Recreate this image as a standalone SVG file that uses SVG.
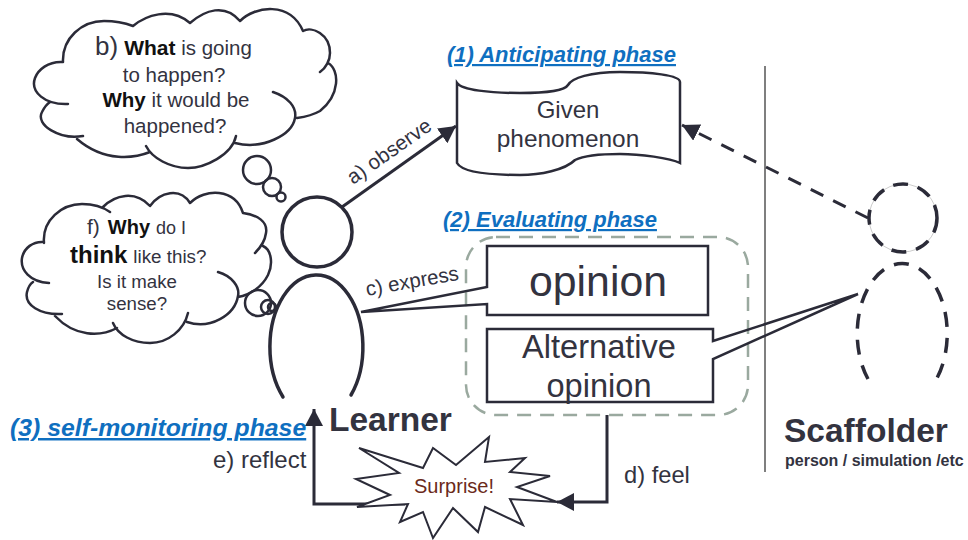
<svg xmlns="http://www.w3.org/2000/svg" width="968" height="540" viewBox="0 0 968 540">
<style>
text{font-family:"Liberation Sans",Arial,sans-serif;fill:#33333f}
.o{fill:none;stroke:#2b2b38;stroke-width:2.5;stroke-linecap:round;stroke-linejoin:round}
.s{fill:#fff;stroke:#2b2b38;stroke-width:2.5;stroke-linejoin:miter}
.c{stroke:#2b2b38;stroke-width:3;fill:none}
.d{stroke-dasharray:15 10;stroke-width:3.5}
.p{fill:#0f6fc0;font-weight:bold;font-style:italic;text-decoration:underline}
.b{font-weight:bold;fill:#111}
.m{text-anchor:middle}
</style>
<defs>
<marker id="ah" markerUnits="userSpaceOnUse" markerWidth="20" markerHeight="20" refX="17" refY="9" orient="auto"><path d="M0,0L17,9L0,18Z" fill="#2b2b38"/></marker>
</defs>
<g id="divider"><line x1="765" y1="66" x2="765" y2="472" stroke="#555" stroke-width="1.5"/></g>
<g id="connectors">
<line class="c" x1="342" y1="207" x2="456" y2="126" marker-end="url(#ah)"/>
<line class="c" x1="868" y1="218" x2="682" y2="125" stroke-dasharray="14 11" marker-end="url(#ah)"/>
<path class="c" d="M607,415V502H557" stroke-linejoin="miter" marker-end="url(#ah)"/>
<path class="c" d="M405,504H314V409" stroke-linejoin="miter" marker-end="url(#ah)"/>
</g>
<g id="thought-b">
<path class="o" d="M63,62C62,38 82,21 104,21C115,21 125,23 133,26C145,16 170,6 190,23C205,10 225,3 240,21C255,6 290,1 303,31C312,26 330,34 330,53C330,60 326,68 320,72M328,63C340,70 340,95 320,111C313,115 304,117 297,118M273,92C288,97 297,107 295,118C292,135 263,150 235,143M236,136C232,155 205,168 188,168C170,168 152,158 146,146M150,152C135,158 105,163 77,139M83,136C60,140 35,125 42,112C44,108 47,104 50,102M68,104C45,105 30,92 35,78C38,70 48,61 63,62"/>
<circle class="o" cx="257" cy="170" r="14"/><circle class="o" cx="272" cy="187" r="9"/><circle class="o" cx="281" cy="197" r="4.5"/>
<text x="95" y="55" font-size="26">b)<tspan class="b" dx="6" font-size="21">What</tspan><tspan font-size="20.5"> is going</tspan></text>
<text class="m" x="174" y="82" font-size="20.5">to happen?</text>
<text class="m" x="176" y="107" font-size="20.5"><tspan class="b">Why</tspan> it would be</text>
<text class="m" x="175" y="133" font-size="20.5">happened?</text>
</g>
<g id="thought-f">
<path class="o" d="M44,243C42,220 62,204 82,204C92,204 103,207 110,212M103,207C115,195 135,190 150,206C160,192 180,187 190,203C205,188 235,188 243,213C258,215 268,222 266,233C265,241 260,248 255,253M263,246C272,250 273,265 268,275C262,287 250,295 238,297M218,272C232,276 240,287 238,296C235,315 210,330 187,322M188,313C184,330 168,343 150,343C133,343 118,335 113,323M117,328C100,337 75,337 55,316M62,314C40,315 24,305 27,292C28,288 30,284 33,282M49,283C30,282 20,270 22,258C24,248 33,241 44,242"/>
<circle class="o" cx="258" cy="303" r="13" stroke-width="2"/><circle class="o" cx="268" cy="307" r="7" stroke-width="2"/><circle class="o" cx="272" cy="307" r="4" stroke-width="2"/>
<text x="87" y="234" font-size="21">f)<tspan class="b" dx="8" font-size="20">Why</tspan><tspan font-size="18" dx="6">do I</tspan></text>
<text x="70" y="263" font-size="18.8"><tspan class="b" font-size="24">think</tspan><tspan dx="6">like this?</tspan></text>
<text class="m" x="137" y="288" font-size="18.7">Is it make</text>
<text class="m" x="137" y="310" font-size="18.7">sense?</text>
</g>
<g id="learner">
<circle class="o" cx="317" cy="232" r="35" style="stroke-width:3.5"/>
<path class="o" style="stroke-width:3.5" d="M283,397A46.5,72 0 1 1 351,395"/>
<text x="329" y="431" font-size="33.5" font-weight="bold">Learner</text>
</g>
<g id="scaffolder">
<circle cx="903" cy="218" r="34" fill="none" stroke="#ccc" stroke-width="1"/>
<circle class="o d" cx="903" cy="218" r="34" style="stroke-linecap:butt"/>
<path class="o d" style="stroke-linecap:butt;stroke-dasharray:15 11" d="M868,379A45,70 0 1 1 937,378"/>
<text x="784" y="442" font-size="33.5" font-weight="bold">Scaffolder</text>
<text x="785" y="466" font-size="16" font-weight="bold">person / simulation /etc</text>
</g>
<g id="phenomenon">
<path class="s" d="M457,83C462,90 490,93 520,93C550,93 565,90 568,85C572,78 590,72 620,72C650,72 680,75 680,82V163C670,158 640,154 620,154C600,154 585,155 575,160C565,170 540,175 520,175C490,175 462,172 457,163Z"/>
<text class="m" x="568" y="118" font-size="24">Given</text>
<text class="m" x="568" y="147" font-size="24.4">phenomenon</text>
</g>
<g id="phase-labels">
<text class="p" x="447" y="62" font-size="22">(1) Anticipating phase</text>
<text class="p" x="443" y="227" font-size="22">(2) Evaluating phase</text>
<text class="p" x="10" y="436" font-size="24.8">(3) self-monitoring phase</text>
</g>
<g id="evaluating-box"><rect x="466" y="237" width="282" height="178" rx="30" fill="none" stroke="#9aa99f" stroke-width="2.5" stroke-dasharray="14 9"/></g>
<g id="opinion">
<path class="s" style="fill:none" d="M487,246H708V315H487V304L361,312L487,287Z"/>
<text class="m" x="598" y="296" font-size="42.8">opinion</text>
</g>
<g id="alternative-opinion">
<path class="s" style="fill:none" d="M487,329H713V341L858,294L713,359V402H487Z"/>
<text class="m" x="599" y="358" font-size="32.6">Alternative</text>
<text class="m" x="599" y="397" font-size="32.6">opinion</text>
</g>
<g id="surprise">
<path class="s" style="stroke-width:2" d="M359,448L423,468L433,448L456,465L489,437L485,462L525,458L510,472L550,476L517,487L557,502L510,499L523,525L485,507L478,532L453,508L433,538L423,512L400,522L408,504L357,507L390,495L356,479L399,473Z"/>
<text class="m" x="454" y="493" font-size="20" style="fill:#6b2a1a">Surprise!</text>
</g>
<g id="edge-labels">
<text x="353" y="185" font-size="20.7" transform="rotate(-35 353 185)">a) observe</text>
<text x="367" y="296" font-size="20.4" transform="rotate(-10 367 296)">c) express</text>
<text x="213" y="468" font-size="24">e) reflect</text>
<text x="624" y="483" font-size="23.7">d) feel</text>
</g>
</svg>
